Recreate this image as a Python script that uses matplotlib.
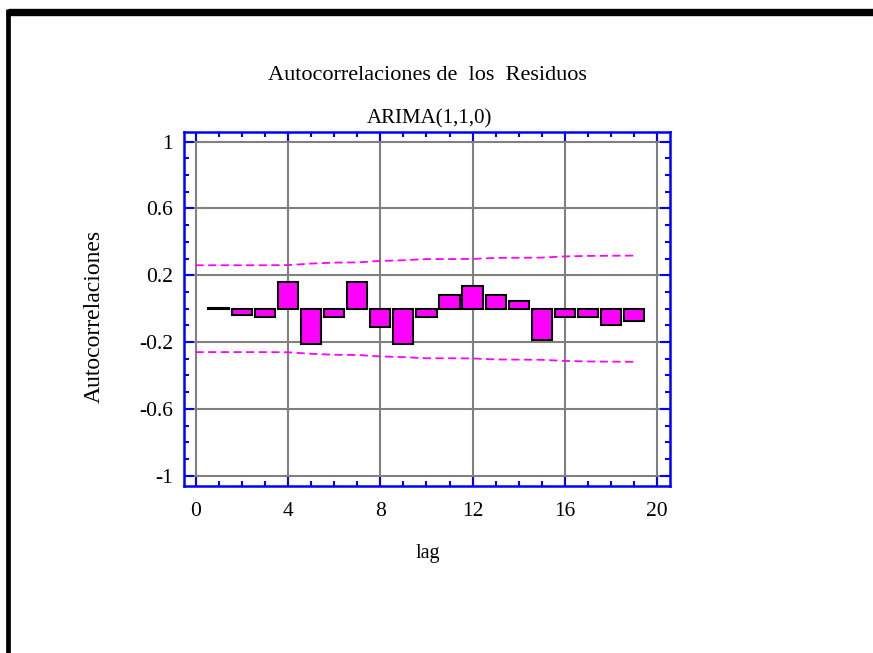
import numpy as np
import matplotlib
matplotlib.use("Agg")
import matplotlib.pyplot as plt
from matplotlib.lines import Line2D
from matplotlib.ticker import MultipleLocator

plt.rcParams["font.family"] = ["Liberation Serif", "DejaVu Serif"]
plt.rcParams["axes.unicode_minus"] = False

# ── data ──────────────────────────────────────────────────────────────────────
lags = np.arange(1, 20)
acf = [0.005, -0.035, -0.05, 0.16, -0.21, -0.05, 0.16, -0.11, -0.21, -0.05,
       0.08, 0.135, 0.08, 0.045, -0.185, -0.05, -0.05, -0.10, -0.075]

limit_lags = np.arange(0, 20)
upper_limit = [0.26, 0.26, 0.26, 0.26, 0.261, 0.27, 0.276, 0.277, 0.286, 0.29,
               0.297, 0.297, 0.298, 0.304, 0.305, 0.306, 0.313, 0.316, 0.317, 0.318]
lower_limit = [-v for v in upper_limit]

xticks = [0, 4, 8, 12, 16, 20]
yticks = [-1, -0.6, -0.2, 0.2, 0.6, 1]
ytick_labels = ["-1", "-0.6", "-0.2", "0.2", "0.6", "1"]

title = "Autocorrelaciones de  los  Residuos"
subtitle = "ARIMA(1,1,0)"

# ── figure ────────────────────────────────────────────────────────────────────
W, H = 873, 653
fig = plt.figure(figsize=(W / 100, H / 100), dpi=100)
ax = fig.add_axes([184 / W, 1 - 485.7 / H, (670 - 184) / W, (485.7 - 132) / H])

blue = "#0000FF"
mag = "#FF00FF"

ax.bar(lags, acf, width=0.88, color=mag, edgecolor="black", linewidth=1.5, zorder=3)
ax.plot(limit_lags, upper_limit, color=mag, ls=(0, (4.5, 2.5)), lw=1.3, zorder=4)
ax.plot(limit_lags, lower_limit, color=mag, ls=(0, (4.5, 2.5)), lw=1.3, zorder=4)

ax.set_xlim(-0.5, 20.55)
ax.set_ylim(-1.06, 1.058)
ax.set_xticks(xticks)
ax.set_yticks(yticks)
ax.set_yticklabels(ytick_labels)
ax.xaxis.set_minor_locator(MultipleLocator(1))
ax.yaxis.set_minor_locator(MultipleLocator(0.1))

ax.grid(True, which="major", color="#808080", lw=1.5, zorder=1)
for s in ax.spines.values():
    s.set_color(blue)
    s.set_linewidth(1.8)

ax.tick_params(which="both", direction="in", top=True, right=True, color=blue, width=1.5,
               labelsize=15.5, labelcolor="black")
ax.tick_params(which="major", length=7)
ax.tick_params(which="minor", length=3.5)
ax.tick_params(axis="x", which="major", pad=12)
ax.tick_params(axis="y", which="major", pad=8)

fig.text(427 / W, 1 - 80 / H, title, ha="center", va="baseline", fontsize=16)
fig.text(429 / W, 1 - 123.5 / H, subtitle, ha="center", va="baseline", fontsize=15)
fig.text(94 / W, 1 - 316 / H, "Autocorrelaciones", rotation=90, ha="center", va="center",
         fontsize=17)
fig.text(428 / W, 1 - 558 / H, "lag", ha="center", va="baseline", fontsize=14.5)

# outer black frame (top and left edges only)
fig.add_artist(Line2D([8.3 / W, 1.0], [1 - 12 / H, 1 - 12 / H], transform=fig.transFigure,
                      color="black", lw=5.3, solid_capstyle="butt"))
fig.add_artist(Line2D([8.3 / W, 8.3 / W], [1 - 9 / H, 0.0], transform=fig.transFigure,
                      color="black", lw=3.4, solid_capstyle="butt"))

fig.savefig("out.png", dpi=100)
